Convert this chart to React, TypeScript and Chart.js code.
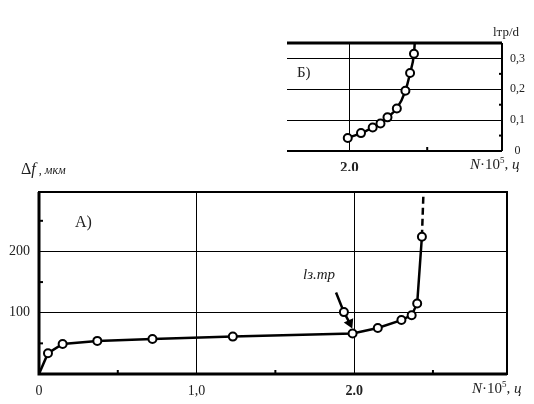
import React, { useEffect, useRef } from "react";
import { Chart, registerables } from "chart.js";

Chart.register(...registerables);

// ---- Main chart (A) data ----
const mainX = [0, 0.057, 0.15, 0.37, 0.72, 1.23, 1.99, 2.15, 2.3, 2.365, 2.4, 2.43];
const mainY = [0, 34, 49, 54, 57, 61, 66, 75, 88, 96, 115, 224];
const dashX = [2.43, 2.44];
const dashY = [224, 297];
const arrowX = [1.885, 1.935, 1.972];
const arrowY = [133, 101, 83];
const mainXTicks: Record<string, string> = { "0": "0", "100": "1,0", "200": "2.0" };
const mainYTicks: Record<string, string> = { "100": "100", "200": "200" };

// ---- Inset chart (Б) data ----
const insetX = [1.99, 2.075, 2.15, 2.2, 2.245, 2.305, 2.36, 2.39, 2.415, 2.42];
const insetY = [0.042, 0.058, 0.076, 0.089, 0.109, 0.138, 0.195, 0.253, 0.315, 0.35];
const insetXTicks: Record<string, string> = { "200": "2.0" };
const insetYTicks: Record<string, string> = { "0": "0", "10": "0,1", "20": "0,2", "30": "0,3" };

const FONT = "'Liberation Serif', 'Times New Roman', serif";

const toPts = (xs: number[], ys: number[]) => xs.map((x, i) => ({ x, y: ys[i] }));

const mainFrame = {
  id: "mainFrame",
  afterDraw(chart: any) {
    const { ctx, chartArea: a, scales } = chart;
    ctx.save();
    ctx.strokeStyle = "#000";
    ctx.lineWidth = 2;
    ctx.strokeRect(a.left, a.top, a.right - a.left, a.bottom - a.top);
    ctx.lineWidth = 3;
    ctx.beginPath();
    ctx.moveTo(a.left, a.top);
    ctx.lineTo(a.left, a.bottom);
    ctx.lineTo(a.right, a.bottom);
    ctx.stroke();
    ctx.lineWidth = 2;
    [50, 150, 250].forEach((v) => {
      const y = scales.y.getPixelForValue(v);
      ctx.beginPath();
      ctx.moveTo(a.left, y);
      ctx.lineTo(a.left + 4, y);
      ctx.stroke();
    });
    [0.5, 1.5, 2.5].forEach((v) => {
      const x = scales.x.getPixelForValue(v);
      ctx.beginPath();
      ctx.moveTo(x, a.bottom);
      ctx.lineTo(x, a.bottom - 4);
      ctx.stroke();
    });
    ctx.restore();
  },
};

const insetFrame = {
  id: "insetFrame",
  afterDraw(chart: any) {
    const { ctx, chartArea: a, scales } = chart;
    ctx.save();
    ctx.strokeStyle = "#000";
    ctx.lineWidth = 3;
    ctx.beginPath();
    ctx.moveTo(a.left, a.top);
    ctx.lineTo(a.right, a.top);
    ctx.stroke();
    ctx.lineWidth = 2;
    ctx.beginPath();
    ctx.moveTo(a.right, a.top);
    ctx.lineTo(a.right, a.bottom);
    ctx.moveTo(a.left, a.bottom);
    ctx.lineTo(a.right, a.bottom);
    ctx.stroke();
    [0.05, 0.15, 0.25].forEach((v) => {
      const y = scales.y.getPixelForValue(v);
      ctx.beginPath();
      ctx.moveTo(a.right, y);
      ctx.lineTo(a.right - 3, y);
      ctx.stroke();
    });
    [2.5].forEach((v) => {
      const x = scales.x.getPixelForValue(v);
      ctx.beginPath();
      ctx.moveTo(x, a.bottom);
      ctx.lineTo(x, a.bottom - 4);
      ctx.stroke();
    });
    ctx.restore();
  },
};

export default function App() {
  const mainRef = useRef<HTMLCanvasElement>(null);
  const insetRef = useRef<HTMLCanvasElement>(null);

  useEffect(() => {
    const key = (v: number) => String(Math.round(v * 100));
    const mainChart = new Chart(mainRef.current!, {
      type: "line",
      data: {
        datasets: [
          {
            data: toPts(mainX, mainY),
            borderColor: "#000",
            borderWidth: 2.5,
            backgroundColor: "#fff",
            pointBorderColor: "#000",
            pointBackgroundColor: "#fff",
            pointBorderWidth: 2,
            pointRadius: (c: any) => (c.dataIndex === 0 ? 0 : 4),
            tension: 0,
          },
          {
            data: toPts(dashX, dashY),
            borderColor: "#000",
            borderWidth: 2.5,
            borderDash: [7, 4],
            pointRadius: 0,
          },
          {
            data: toPts(arrowX, arrowY),
            borderColor: "#000",
            borderWidth: 2.5,
            pointBorderColor: "#000",
            pointBackgroundColor: (c: any) => (c.dataIndex === 2 ? "#000" : "#fff"),
            pointBorderWidth: 2,
            pointStyle: (c: any) => (c.dataIndex === 2 ? "triangle" : "circle"),
            rotation: 155,
            pointRadius: (c: any) => (c.dataIndex === 0 ? 0 : 4),
          },
        ],
      },
      options: {
        responsive: false,
        animation: false,
        devicePixelRatio: 1,
        layout: { padding: { top: 192, left: 0, right: 27, bottom: 0 } },
        plugins: { legend: { display: false }, tooltip: { enabled: false } },
        scales: {
          x: {
            type: "linear",
            min: 0,
            max: 2.97,
            afterFit: (s: any) => {
              s.height = 30;
            },
            border: { display: false },
            grid: {
              drawTicks: false,
              color: (c: any) => (c.tick && (key(c.tick.value) === "100" || key(c.tick.value) === "200") ? "#000" : "rgba(0,0,0,0)"),
              lineWidth: 1,
            },
            ticks: {
              stepSize: 0.5,
              includeBounds: false,
              autoSkip: false,
              maxRotation: 0,
              padding: 9,
              color: "#222",
              font: (c: any) => ({
                family: FONT,
                size: 14,
                weight: c.tick && key(c.tick.value) === "200" ? "bold" : "normal",
              }),
              callback: (v: any) => mainXTicks[key(Number(v))] ?? "",
            },
          },
          y: {
            type: "linear",
            min: 0,
            max: 297,
            afterFit: (s: any) => {
              s.width = 39;
            },
            border: { display: false },
            grid: {
              drawTicks: false,
              color: (c: any) => (c.tick && (c.tick.value === 100 || c.tick.value === 200) ? "#000" : "rgba(0,0,0,0)"),
              lineWidth: 1,
            },
            ticks: {
              stepSize: 50,
              includeBounds: false,
              autoSkip: false,
              padding: 9,
              color: "#222",
              font: { family: FONT, size: 14 },
              callback: (v: any) => mainYTicks[String(v)] ?? "",
            },
          },
        },
      },
      plugins: [mainFrame],
    } as any);

    const insetChart = new Chart(insetRef.current!, {
      type: "line",
      data: {
        datasets: [
          {
            data: toPts(insetX, insetY),
            borderColor: "#000",
            borderWidth: 2.5,
            pointBorderColor: "#000",
            pointBackgroundColor: "#fff",
            pointBorderWidth: 2,
            pointRadius: (c: any) => (c.dataIndex === insetX.length - 1 ? 0 : 4),
            cubicInterpolationMode: "monotone",
          },
        ],
      },
      options: {
        responsive: false,
        animation: false,
        devicePixelRatio: 1,
        layout: { padding: { top: 43, left: 287, right: 0, bottom: 233 } },
        plugins: { legend: { display: false }, tooltip: { enabled: false } },
        scales: {
          x: {
            type: "linear",
            min: 1.6,
            max: 2.98,
            afterFit: (s: any) => {
              s.height = 20;
            },
            border: { display: false },
            grid: {
              drawTicks: false,
              color: (c: any) => (c.tick && key(c.tick.value) === "200" ? "#000" : "rgba(0,0,0,0)"),
              lineWidth: 1,
            },
            ticks: {
              stepSize: 0.1,
              includeBounds: false,
              autoSkip: false,
              maxRotation: 0,
              padding: 8,
              color: "#222",
              font: { family: FONT, size: 15, weight: "bold" },
              callback: (v: any) => insetXTicks[key(Number(v))] ?? "",
            },
          },
          y: {
            type: "linear",
            position: "right",
            min: 0,
            max: 0.35,
            afterFit: (s: any) => {
              s.width = 32;
            },
            border: { display: false },
            grid: {
              drawTicks: false,
              color: (c: any) => {
                const k = c.tick ? key(c.tick.value) : "";
                return k === "10" || k === "20" || k === "30" ? "#000" : "rgba(0,0,0,0)";
              },
              lineWidth: 1,
            },
            ticks: {
              stepSize: 0.05,
              includeBounds: false,
              autoSkip: false,
              crossAlign: "center",
              padding: 8,
              color: "#222",
              font: { family: FONT, size: 12 },
              callback: (v: any) => insetYTicks[key(Number(v))] ?? "",
            },
          },
        },
      },
      plugins: [insetFrame],
    } as any);

    return () => {
      mainChart.destroy();
      insetChart.destroy();
    };
  }, []);

  const txt: React.CSSProperties = { position: "absolute", fontFamily: FONT, color: "#222", whiteSpace: "nowrap", lineHeight: 1 };

  return (
    <div style={{ position: "absolute", left: 0, top: 0, width: 534, height: 404, background: "#fff", overflow: "hidden" }}>
      <canvas ref={mainRef} width={534} height={404} style={{ position: "absolute", left: 0, top: 0 }} />
      <canvas ref={insetRef} width={534} height={404} style={{ position: "absolute", left: 0, top: 0 }} />
      {/* main chart annotations */}
      <div style={{ ...txt, left: 21, top: 161, fontSize: 16 }}>
        Δ<i>f</i>
        <span style={{ fontSize: 12 }}> , <i>мкм</i></span>
      </div>
      <div style={{ ...txt, left: 75, top: 214, fontSize: 16 }}>А)</div>
      <div style={{ ...txt, left: 303, top: 267, fontSize: 15, fontStyle: "italic" }}>lз.тр</div>
      <div style={{ ...txt, left: 472, top: 380, fontSize: 15 }}>
        <i>N</i>·10<sup style={{ fontSize: 9 }}>5</sup>, <i>ц</i>
      </div>
      {/* inset annotations */}
      <div style={{ ...txt, left: 297, top: 65, fontSize: 15 }}>Б)</div>
      <div style={{ ...txt, left: 493, top: 25, fontSize: 13 }}>lтр/d</div>
      <div style={{ ...txt, left: 470, top: 156, fontSize: 15 }}>
        <i>N</i>·10<sup style={{ fontSize: 9 }}>5</sup>, <i>ц</i>
      </div>
    </div>
  );
}
